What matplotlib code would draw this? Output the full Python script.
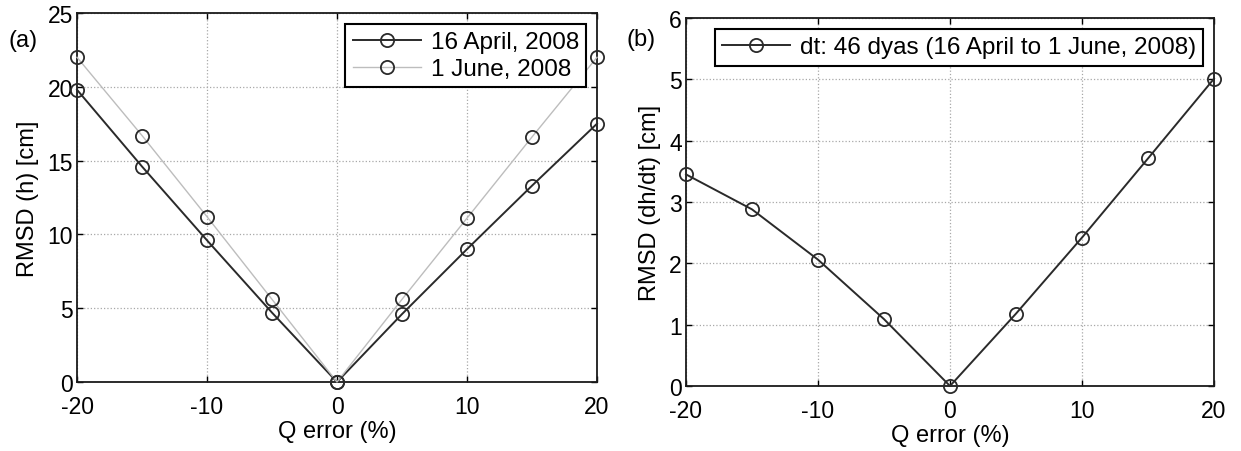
import matplotlib
matplotlib.use("Agg")
import matplotlib.pyplot as plt
import numpy as np

plt.rcParams['font.family'] = ['Liberation Sans', 'DejaVu Sans']
plt.rcParams['axes.unicode_minus'] = False

q_error = [-20, -15, -10, -5, 0, 5, 10, 15, 20]
rmsd_april = [19.8, 14.6, 9.6, 4.7, 0.0, 4.6, 9.0, 13.3, 17.5]
rmsd_june = [22.0, 16.7, 11.2, 5.6, 0.0, 5.6, 11.1, 16.6, 22.0]
rmsd_dhdt = [3.45, 2.88, 2.06, 1.09, 0.0, 1.18, 2.42, 3.71, 5.01]

xticks = [-20, -10, 0, 10, 20]
yticks_a = [0, 5, 10, 15, 20, 25]
yticks_b = [0, 1, 2, 3, 4, 5, 6]

W, H = 1241, 452
fig = plt.figure(figsize=(W / 100, H / 100), dpi=100)

def px_axes(x0, x1, y0, y1):
    return fig.add_axes([x0 / W, 1 - y1 / H, (x1 - x0) / W, (y1 - y0) / H])

axa = px_axes(77, 597, 14, 383)
axb = px_axes(686, 1214, 19, 387)

dark = '#2a2a2a'
light = '#bdbdbd'
mk = dict(marker='o', markersize=9.5, markerfacecolor='none',
          markeredgecolor=dark, markeredgewidth=1.3, clip_on=False)

axa.plot(q_error, rmsd_april, color=dark, lw=1.4, label='16 April, 2008', **mk, zorder=3)
axa.plot(q_error, rmsd_june, color=light, lw=1.0, label='1 June, 2008', **mk, zorder=3)
axb.plot(q_error, rmsd_dhdt, color=dark, lw=1.4,
         label='dt: 46 dyas (16 April to 1 June, 2008)', **mk, zorder=3)

for ax, yt, ylab in [(axa, yticks_a, 'RMSD (h) [cm]'), (axb, yticks_b, 'RMSD (dh/dt) [cm]')]:
    ax.set_xlim(-20, 20)
    ax.set_ylim(yt[0], yt[-1])
    ax.set_xticks(xticks)
    ax.set_yticks(yt)
    ax.grid(True, linestyle=':', color='#a8a8a8', linewidth=0.9)
    ax.tick_params(direction='in', length=4, width=1.0, top=True, right=True,
                   labelsize=16.5, pad=3)
    ax.tick_params(axis='x', pad=9)
    for s in ax.spines.values():
        s.set_linewidth(1.3)
        s.set_color('#1a1a1a')
    ax.set_xlabel('Q error (%)', fontsize=17, labelpad=2)
    ax.set_ylabel(ylab, fontsize=17, labelpad=6)
    leg = ax.legend(loc='upper right', fontsize=17.5, fancybox=False, framealpha=1,
                    edgecolor='black', handlelength=2.8, handletextpad=0.4,
                    borderpad=0.3, labelspacing=0.2, borderaxespad=0.45)
    leg.get_frame().set_linewidth(1.5)
    leg.set_zorder(5)

fig.text(8 / W, 1 - 41 / H, '(a)', fontsize=17, va='center', ha='left')
fig.text(627 / W, 1 - 40 / H, '(b)', fontsize=17, va='center', ha='left')

fig.savefig('out.png', dpi=100)
